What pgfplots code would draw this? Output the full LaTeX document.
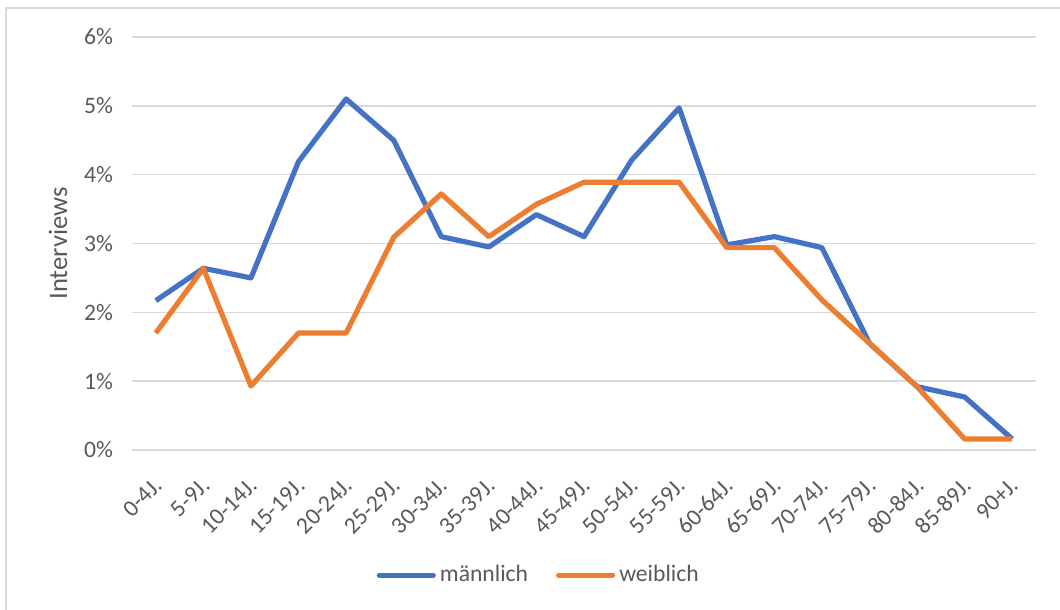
\documentclass[border=0pt]{standalone}
\usepackage{fontspec}
\setmainfont{Carlito}
\usepackage{pgfplots}
\pgfplotsset{compat=1.18}
\definecolor{mblue}{HTML}{4472C4}
\definecolor{worange}{HTML}{ED7D31}
\definecolor{gridgray}{HTML}{D9D9D9}
\definecolor{txtgray}{HTML}{595959}

\begin{document}
\begin{tikzpicture}
\useasboundingbox (-66pt,-80pt) rectangle (464pt,225pt);
% chart frame (only left and top edge visible)
\draw[gridgray, line width=0.9pt] (-63pt,-80pt) -- (-63pt,221pt) -- (464pt,221pt);
\begin{axis}[
    at={(0,0)}, anchor=south west,
    scale only axis,
    width=452pt, height=206.5pt,
    xmin=-0.5, xmax=18.5,
    ymin=0, ymax=6,
    xtick={0,...,18},
    xticklabels={0-4J.,5-9J.,10-14J.,15-19J.,20-24J.,25-29J.,30-34J.,35-39J.,40-44J.,45-49J.,50-54J.,55-59J.,60-64J.,65-69J.,70-74J.,75-79J.,80-84J.,85-89J.,90+J.},
    ytick={0,1,2,3,4,5,6},
    yticklabel={\pgfmathprintnumber{\tick}\%},
    /pgf/number format/assume math mode=true,
    axis line style={draw=none},
    major tick length=0pt,
    ymajorgrids=true,
    grid style={gridgray, line width=0.8pt},
    ticklabel style={font=\fontsize{11.8}{14}\selectfont, text=txtgray},
    yticklabel style={xshift=-6pt},
    xticklabel style={xshift=-1.5pt, yshift=-8pt, rotate=45, anchor=north east},
    every axis y label/.style={at={(axis description cs:-0.0819,0.5)}, rotate=90, anchor=center},
    ylabel={Interviews},
    label style={font=\fontsize{13.3}{16}\selectfont, text=txtgray},
    legend style={at={(axis description cs:0.451,-0.303)}, anchor=center, draw=none, fill=none,
        font=\fontsize{11.8}{14}\selectfont, text=txtgray,
        /tikz/every even column/.append style={column sep=12pt}},
    legend columns=2,
    legend image code/.code={\draw[#1, line cap=round] (0pt,0pt) -- (27pt,0pt);},
    every axis plot/.append style={line width=2.6pt, line join=round},
]
% maennlich
\addplot[mblue] coordinates {
(0,2.17) (1,2.64) (2,2.50) (3,4.19) (4,5.10) (5,4.50) (6,3.10) (7,2.95) (8,3.42) (9,3.10)
(10,4.21) (11,4.97) (12,2.98) (13,3.10) (14,2.94) (15,1.55) (16,0.92) (17,0.77) (18,0.16)};
\addlegendentry{männlich}
% weiblich
\addplot[worange] coordinates {
(0,1.70) (1,2.64) (2,0.93) (3,1.70) (4,1.70) (5,3.09) (6,3.72) (7,3.10) (8,3.57) (9,3.89)
(10,3.89) (11,3.89) (12,2.94) (13,2.94) (14,2.18) (15,1.55) (16,0.92) (17,0.16) (18,0.16)};
\addlegendentry{weiblich}
\end{axis}
\end{tikzpicture}
\end{document}
